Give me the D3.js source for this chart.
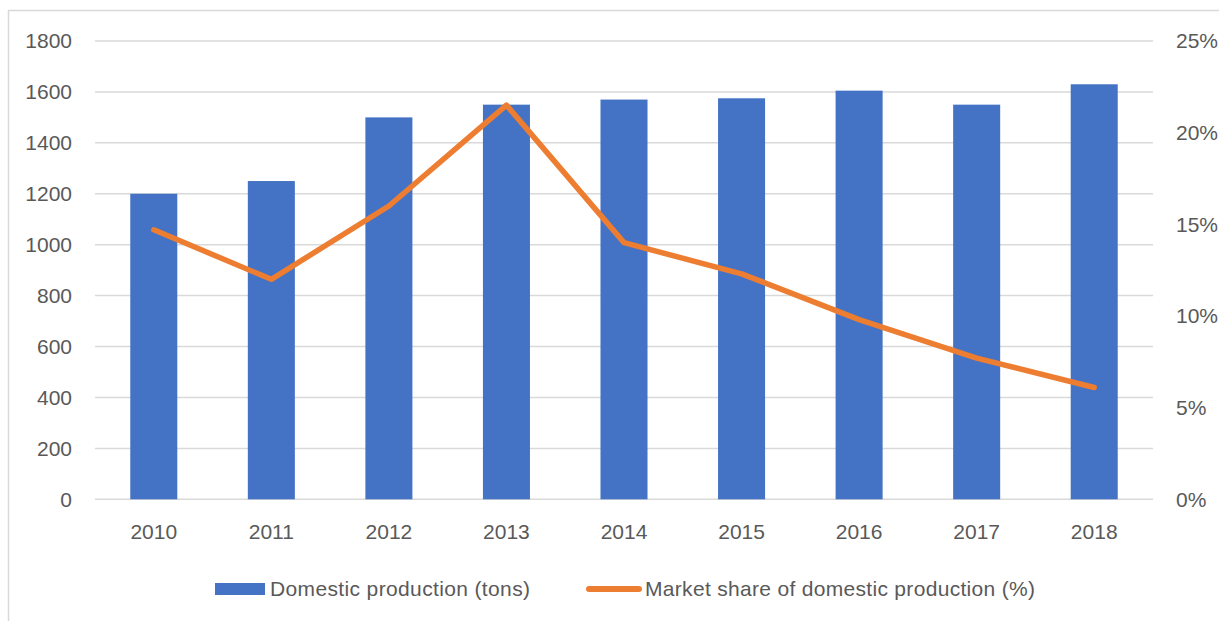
<!DOCTYPE html>
<html>
<head>
<meta charset="utf-8">
<script src="https://cdn.jsdelivr.net/npm/d3@7"></script>
<style>
  html, body { margin: 0; padding: 0; background: #fff; }
  svg { display: block; }
  text { font-family: "Liberation Sans", Arial, sans-serif; fill: #595959; }
</style>
</head>
<body>
<svg id="chart" width="1219" height="621"></svg>
<script>
// Years on the category axis
const years = ["2010", "2011", "2012", "2013", "2014", "2015", "2016", "2017", "2018"];
// Domestic production, tons (bars, left axis)
const production = [1200, 1250, 1500, 1550, 1570, 1575, 1605, 1550, 1630];
// Market share of domestic production, % (line, right axis)
const marketShare = [14.7, 12.0, 16.0, 21.5, 14.0, 12.3, 9.8, 7.7, 6.1];
// Axis ticks
const leftTicks = [0, 200, 400, 600, 800, 1000, 1200, 1400, 1600, 1800];
const rightTicks = [0, 5, 10, 15, 20, 25];
// Legend entries
const legendLabels = ["Domestic production (tons)", "Market share of domestic production (%)"];

const svg = d3.select("#chart");
const plot = { left: 95, right: 1153, top: 41, bottom: 499.3 };
const fontSize = 21;

const x = d3.scaleBand()
  .domain(years)
  .range([plot.left, plot.right])
  .paddingInner(0.6)
  .paddingOuter(0.3);

const yLeft = d3.scaleLinear().domain([0, 1800]).range([plot.bottom, plot.top]);
const yRight = d3.scaleLinear().domain([0, 25]).range([plot.bottom, plot.top]);

// Chart frame
svg.append("rect")
  .attr("x", 8.5).attr("y", 10.5)
  .attr("width", 1240).attr("height", 640)
  .attr("fill", "none")
  .attr("stroke", "#d9d9d9")
  .attr("stroke-width", 1.5);

// Horizontal gridlines
svg.append("g")
  .selectAll("line")
  .data(leftTicks)
  .join("line")
  .attr("x1", plot.left).attr("x2", plot.right)
  .attr("y1", d => yLeft(d)).attr("y2", d => yLeft(d))
  .attr("stroke", "#d9d9d9")
  .attr("stroke-width", 1.5);

function styleAxis(g) {
  g.select(".domain").remove();
  g.selectAll("text")
    .attr("font-size", fontSize)
    .attr("fill", "#595959")
    .style("font-family", "'Liberation Sans', Arial, sans-serif");
}

// Left axis
svg.append("g")
  .attr("transform", `translate(${plot.left},0)`)
  .call(d3.axisLeft(yLeft).tickValues(leftTicks).tickFormat(d3.format("d")).tickSize(0).tickPadding(23))
  .call(styleAxis);

// Right axis
svg.append("g")
  .attr("transform", `translate(${plot.right},0)`)
  .call(d3.axisRight(yRight).tickValues(rightTicks).tickFormat(d => d + "%").tickSize(0).tickPadding(23))
  .call(styleAxis);

// Bottom axis
svg.append("g")
  .attr("transform", `translate(0,${plot.bottom})`)
  .call(d3.axisBottom(x).tickSize(0).tickPadding(25))
  .call(styleAxis);

// Bars
svg.append("g")
  .selectAll("rect")
  .data(years.map((y, i) => ({ year: y, value: production[i] })))
  .join("rect")
  .attr("x", d => x(d.year))
  .attr("y", d => yLeft(d.value))
  .attr("width", x.bandwidth())
  .attr("height", d => yLeft(0) - yLeft(d.value))
  .attr("fill", "#4472c4");

// Market share line
const line = d3.line()
  .x(d => x(d.year) + x.bandwidth() / 2)
  .y(d => yRight(d.value));

svg.append("path")
  .datum(years.map((y, i) => ({ year: y, value: marketShare[i] })))
  .attr("d", line)
  .attr("fill", "none")
  .attr("stroke", "#ed7d31")
  .attr("stroke-width", 5.5)
  .attr("stroke-linejoin", "round")
  .attr("stroke-linecap", "round");

// Legend
const legend = svg.append("g");
legend.append("rect")
  .attr("x", 215).attr("y", 583)
  .attr("width", 50).attr("height", 12)
  .attr("fill", "#4472c4");
legend.append("text")
  .attr("x", 270).attr("y", 589)
  .attr("dy", "0.35em")
  .attr("font-size", fontSize)
  .attr("textLength", 260)
  .text(legendLabels[0]);
legend.append("line")
  .attr("x1", 589).attr("x2", 639)
  .attr("y1", 589).attr("y2", 589)
  .attr("stroke", "#ed7d31")
  .attr("stroke-width", 6)
  .attr("stroke-linecap", "round");
legend.append("text")
  .attr("x", 645).attr("y", 589)
  .attr("dy", "0.35em")
  .attr("font-size", fontSize)
  .attr("textLength", 390)
  .text(legendLabels[1]);
</script>
</body>
</html>
